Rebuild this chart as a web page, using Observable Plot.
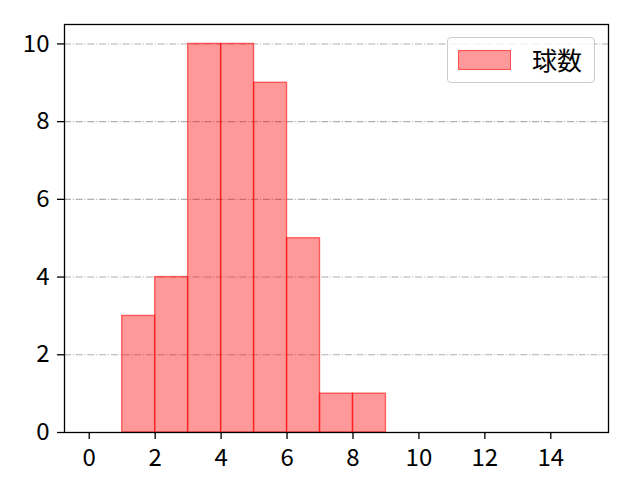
<!DOCTYPE html>
<html>
<head>
<meta charset="utf-8">
<script src="https://cdn.jsdelivr.net/npm/d3@7"></script>
<script src="https://cdn.jsdelivr.net/npm/@observablehq/plot@0.6"></script>
<style>
  body { margin: 0; background: #fff; }
  #chart { position: relative; width: 640px; height: 480px; }
  .legend { position: absolute; left: 447px; top: 37px; width: 148px; height: 46px; border: 1px solid #cccccc; border-radius: 4px; background: rgba(255,255,255,0.8); box-sizing: border-box; font-family: "Noto Sans CJK JP", sans-serif; font-size: 25px; }
  .legend .sw { position: absolute; left: 10px; top: 12px; width: 53px; height: 20px; background: rgba(255,0,0,0.4); border: 1px solid rgba(255,0,0,0.5); box-sizing: border-box; }
  .legend .lb { position: absolute; left: 84px; top: 5px; line-height: 32px; color: #000; }
</style>
</head>
<body>
<div id="chart"></div>
<script>
const binStarts = [1, 2, 3, 4, 5, 6, 7, 8];
const binWidth = 1;
const counts = [3, 4, 10, 10, 9, 5, 1, 1];
const xTicks = [0, 2, 4, 6, 8, 10, 12, 14];
const yTicks = [0, 2, 4, 6, 8, 10];
const seriesName = "球数";

const bins = binStarts.map((s, i) => ({x1: s, x2: s + binWidth, y: counts[i]}));

const plot = Plot.plot({
  width: 640,
  height: 480,
  marginLeft: 64,
  marginRight: 32,
  marginTop: 24,
  marginBottom: 48,
  style: {fontFamily: "'Noto Sans CJK JP', sans-serif", fontSize: "24px", color: "#000", background: "#fff"},
  x: {domain: [-0.75, 15.75]},
  y: {domain: [0, 10.5]},
  marks: [
    Plot.ruleY(yTicks.filter(d => d > 0), {stroke: "#b0b0b0", strokeWidth: 1.1, strokeDasharray: "7,1.8,1.1,1.8"}),
    Plot.rectY(bins, {x1: "x1", x2: "x2", y: "y", fill: "red", fillOpacity: 0.4, stroke: "red", strokeOpacity: 0.55, strokeWidth: 1.4, inset: 0}),
    Plot.frame({stroke: "#000", strokeWidth: 1.3}),
    Plot.axisX({ticks: xTicks, tickSize: 7, tickPadding: 9, label: null, tickFormat: d => d, strokeWidth: 1.3, fontSize: 24}),
    Plot.axisY({ticks: yTicks, tickSize: 7, tickPadding: 8, label: null, tickFormat: d => d, strokeWidth: 1.3, fontSize: 24})
  ]
});
const chart = document.getElementById("chart");
chart.appendChild(plot);
const lg = document.createElement("div");
lg.className = "legend";
lg.innerHTML = `<div class="sw"></div><div class="lb">${seriesName}</div>`;
chart.appendChild(lg);
</script>
</body>
</html>
